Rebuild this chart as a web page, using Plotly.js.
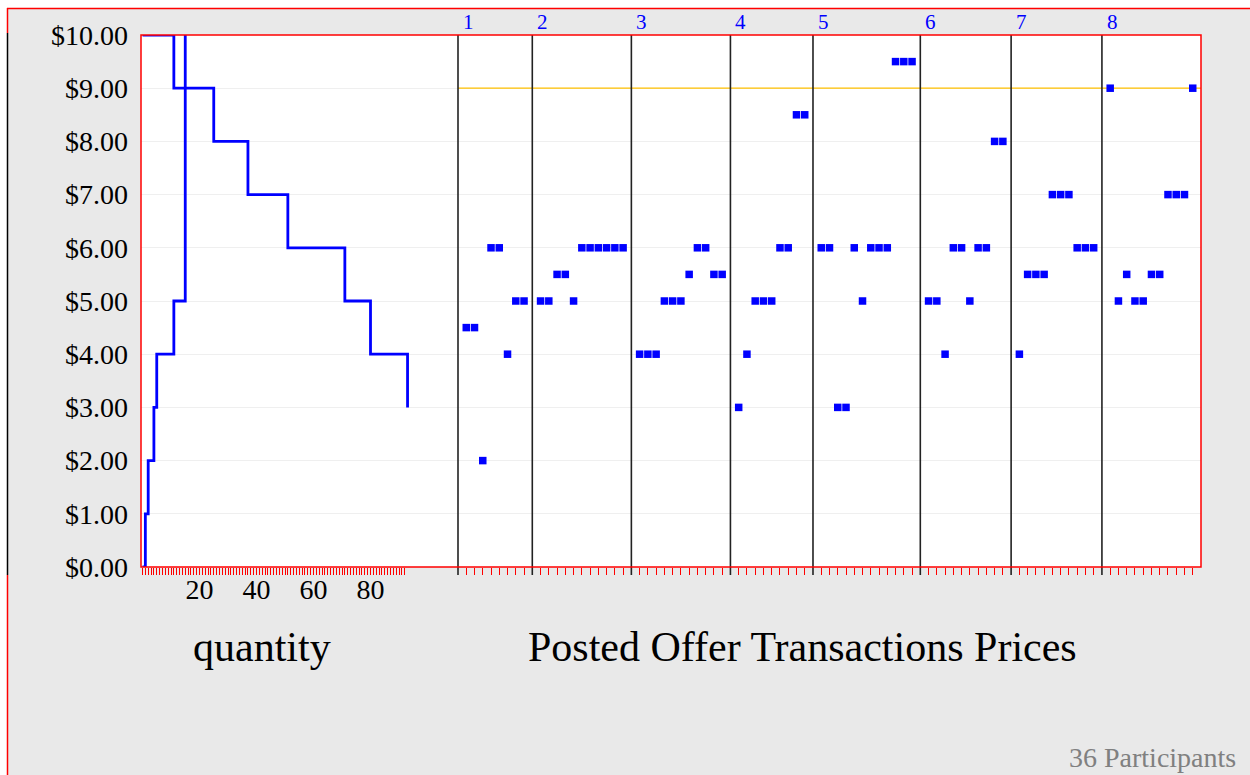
<!DOCTYPE html>
<html>
<head>
<meta charset="utf-8">
<script src="https://cdn.plot.ly/plotly-3.0.1.min.js"></script>
<style>
html, body { margin: 0; padding: 0; background: #ffffff; }
#chart { width: 1250px; height: 775px; }
</style>
</head>
<body>
<div id="chart"></div>
<script>
// ---------- DATA ----------
// Supply and demand step curves (quantity, price)
var demandQty   = [0, 11, 25, 37, 51, 71, 80, 93];
var demandPrice = [10, 9, 8, 7, 6, 5, 4, 3];
var supplyQty   = [0, 1, 2, 4, 5, 11, 15];
var supplyPrice = [0, 1, 2, 3, 4, 5, 10];
var quantityTickStep = 20;
var quantityUnits = 92;

// Posted offer transaction prices, one array per period
var periodLabels = ['1', '2', '3', '4', '5', '6', '7', '8'];
var period1 = [4.5, 4.5, 2, 6, 6, 4, 5, 5];
var period2 = [5, 5, 5.5, 5.5, 5, 6, 6, 6, 6, 6, 6];
var period3 = [4, 4, 4, 5, 5, 5, 5.5, 6, 6, 5.5, 5.5];
var period4 = [3, 4, 5, 5, 5, 6, 6, 8.5, 8.5];
var period5 = [6, 6, 3, 3, 6, 5, 6, 6, 6, 9.5, 9.5, 9.5];
var period6 = [5, 5, 4, 6, 6, 5, 6, 6, 8, 8];
var period7 = [4, 5.5, 5.5, 5.5, 7, 7, 7, 6, 6, 6];
var period8 = [9, 5, 5.5, 5, 5, 5.5, 5.5, 7, 7, 7, 9];
var referencePrice = 9;
var priceTicks = [0, 1, 2, 3, 4, 5, 6, 7, 8, 9, 10];

var quantityTitle = 'quantity';
var pricesTitle = 'Posted Offer Transactions Prices';
var participantsText = '36 Participants';

// ---------- BUILD ----------
var periods = [period1, period2, period3, period4, period5, period6, period7, period8];
var txX = [], txY = [], boundaries = [];
var slot = 0;
periods.forEach(function (p) {
  boundaries.push(slot);
  slot++;
  p.forEach(function (v) { txX.push(slot); txY.push(v); slot++; });
});
var totalSlots = slot;

var qTickVals = [], qTickText = [];
for (var q = 0; q <= quantityUnits; q++) {
  qTickVals.push(q);
  qTickText.push(q > 0 && q % quantityTickStep === 0 ? String(q) : '');
}

// geometry (pixels)
var W = 1250, H = 775;
var PL = 141, PR = 1201, PT = 35, PB = 567;
var PW = PR - PL, PH = PB - PT;
var splitPx = 458;
function px(x) { return (x - PL) / PW; }
function py(y) { return (PB - y) / PH; }

var q0px = 142.5, qUnitPx = 2.85;
var slotPx = (PR - splitPx) / totalSlots;
var x2StartPx = splitPx - 4;

var serif = 'Liberation Serif, Times New Roman, serif';

var traces = [
  {
    x: demandQty, y: demandPrice, xaxis: 'x', yaxis: 'y',
    type: 'scatter', mode: 'lines', line: { color: '#0000FF', width: 2.8, shape: 'hv' },
    name: 'demand', hoverinfo: 'x+y'
  },
  {
    x: supplyQty, y: supplyPrice, xaxis: 'x', yaxis: 'y',
    type: 'scatter', mode: 'lines', line: { color: '#0000FF', width: 2.8, shape: 'hv' },
    name: 'supply', hoverinfo: 'x+y'
  },
  {
    x: txX, y: txY, xaxis: 'x2', yaxis: 'y',
    type: 'scatter', mode: 'markers',
    marker: { symbol: 'square', size: 7.5, color: '#0000FF', line: { width: 0 } },
    cliponaxis: false, name: 'transactions', hoverinfo: 'y'
  }
];

var shapes = [];
// outer page frame
shapes.push({ type: 'rect', xref: 'paper', yref: 'paper', x0: px(0), x1: px(W), y0: py(8), y1: py(0),
  fillcolor: '#ffffff', line: { width: 0 }, layer: 'below' });
shapes.push({ type: 'rect', xref: 'paper', yref: 'paper', x0: px(0), x1: px(7), y0: py(H), y1: py(8),
  fillcolor: '#ffffff', line: { width: 0 }, layer: 'below' });
shapes.push({ type: 'line', xref: 'paper', yref: 'paper', x0: px(7), x1: px(W), y0: py(8.5), y1: py(8.5),
  line: { color: '#ff0000', width: 1.5 } });
shapes.push({ type: 'line', xref: 'paper', yref: 'paper', x0: px(7.5), x1: px(7.5), y0: py(8), y1: py(33),
  line: { color: '#ff0000', width: 1.5 } });
shapes.push({ type: 'line', xref: 'paper', yref: 'paper', x0: px(7.5), x1: px(7.5), y0: py(33), y1: py(575),
  line: { color: '#000000', width: 1.5 } });
shapes.push({ type: 'line', xref: 'paper', yref: 'paper', x0: px(7.5), x1: px(7.5), y0: py(575), y1: py(H),
  line: { color: '#ff0000', width: 1.5 } });
// reference price line
shapes.push({ type: 'line', xref: 'x2', yref: 'y', x0: boundaries[0], x1: totalSlots, y0: referencePrice, y1: referencePrice,
  line: { color: '#FFC000', width: 1.3 }, layer: 'between' });
// period boundaries
boundaries.forEach(function (b) {
  shapes.push({ type: 'line', xref: 'x2', yref: 'paper', x0: b, x1: b, y0: -8 / PH, y1: 1,
    line: { color: '#222222', width: 1.6 } });
});
// plot frame
shapes.push({ type: 'rect', xref: 'paper', yref: 'paper', x0: 0, x1: 1, y0: 0, y1: 1,
  line: { color: '#ff0000', width: 1.5 }, fillcolor: 'rgba(0,0,0,0)' });

var annotations = [];
boundaries.forEach(function (b, i) {
  annotations.push({ xref: 'x2', yref: 'paper', x: b, y: 1, xanchor: 'left', yanchor: 'middle',
    xshift: 3, yshift: 13, showarrow: false, text: periodLabels[i],
    font: { family: serif, size: 21, color: '#0000FF' } });
});
annotations.push({ xref: 'paper', yref: 'paper', x: px(262), y: py(647), xanchor: 'center', yanchor: 'middle',
  showarrow: false, text: quantityTitle, font: { family: serif, size: 42, color: '#000000' } });
annotations.push({ xref: 'paper', yref: 'paper', x: px(802), y: py(647), xanchor: 'center', yanchor: 'middle',
  showarrow: false, text: pricesTitle, font: { family: serif, size: 42, color: '#000000' } });
annotations.push({ xref: 'paper', yref: 'paper', x: px(1238), y: py(757), xanchor: 'right', yanchor: 'middle',
  showarrow: false, text: participantsText, font: { family: serif, size: 28, color: '#808080' } });

var layout = {
  width: W, height: H,
  margin: { l: PL, r: W - PR, t: PT, b: H - PB, pad: 0 },
  paper_bgcolor: '#E9E9E9',
  plot_bgcolor: '#ffffff',
  showlegend: false,
  font: { family: serif, color: '#000000' },
  xaxis: {
    domain: [0, px(splitPx)],
    range: [(PL - q0px) / qUnitPx, (splitPx - q0px) / qUnitPx],
    anchor: 'y',
    tickmode: 'array', tickvals: qTickVals, ticktext: qTickText,
    ticks: 'outside', ticklen: 7, tickwidth: 1, tickcolor: '#ff0000',
    ticklabelstandoff: -10,
    tickfont: { family: serif, size: 28, color: '#000000' },
    showgrid: false, zeroline: false, showline: false, fixedrange: true
  },
  xaxis2: {
    domain: [px(x2StartPx), 1],
    range: [-(splitPx - x2StartPx) / slotPx, totalSlots],
    anchor: 'y',
    tickmode: 'array', tickvals: txX, showticklabels: false,
    ticks: 'outside', ticklen: 7, tickwidth: 1, tickcolor: '#ff0000',
    showgrid: false, zeroline: false, showline: false, fixedrange: true
  },
  yaxis: {
    domain: [0, 1], range: [0, 10], anchor: 'x',
    tickmode: 'array', tickvals: priceTicks, tickformat: '$.2f',
    ticks: '', ticklabelstandoff: 12,
    tickfont: { family: serif, size: 28, color: '#000000' },
    showgrid: true, gridcolor: '#EFEFEF', gridwidth: 1,
    zeroline: false, showline: false, fixedrange: true
  },
  shapes: shapes,
  annotations: annotations
};

Plotly.newPlot('chart', traces, layout, { displayModeBar: false, staticPlot: true });
</script>
</body>
</html>
